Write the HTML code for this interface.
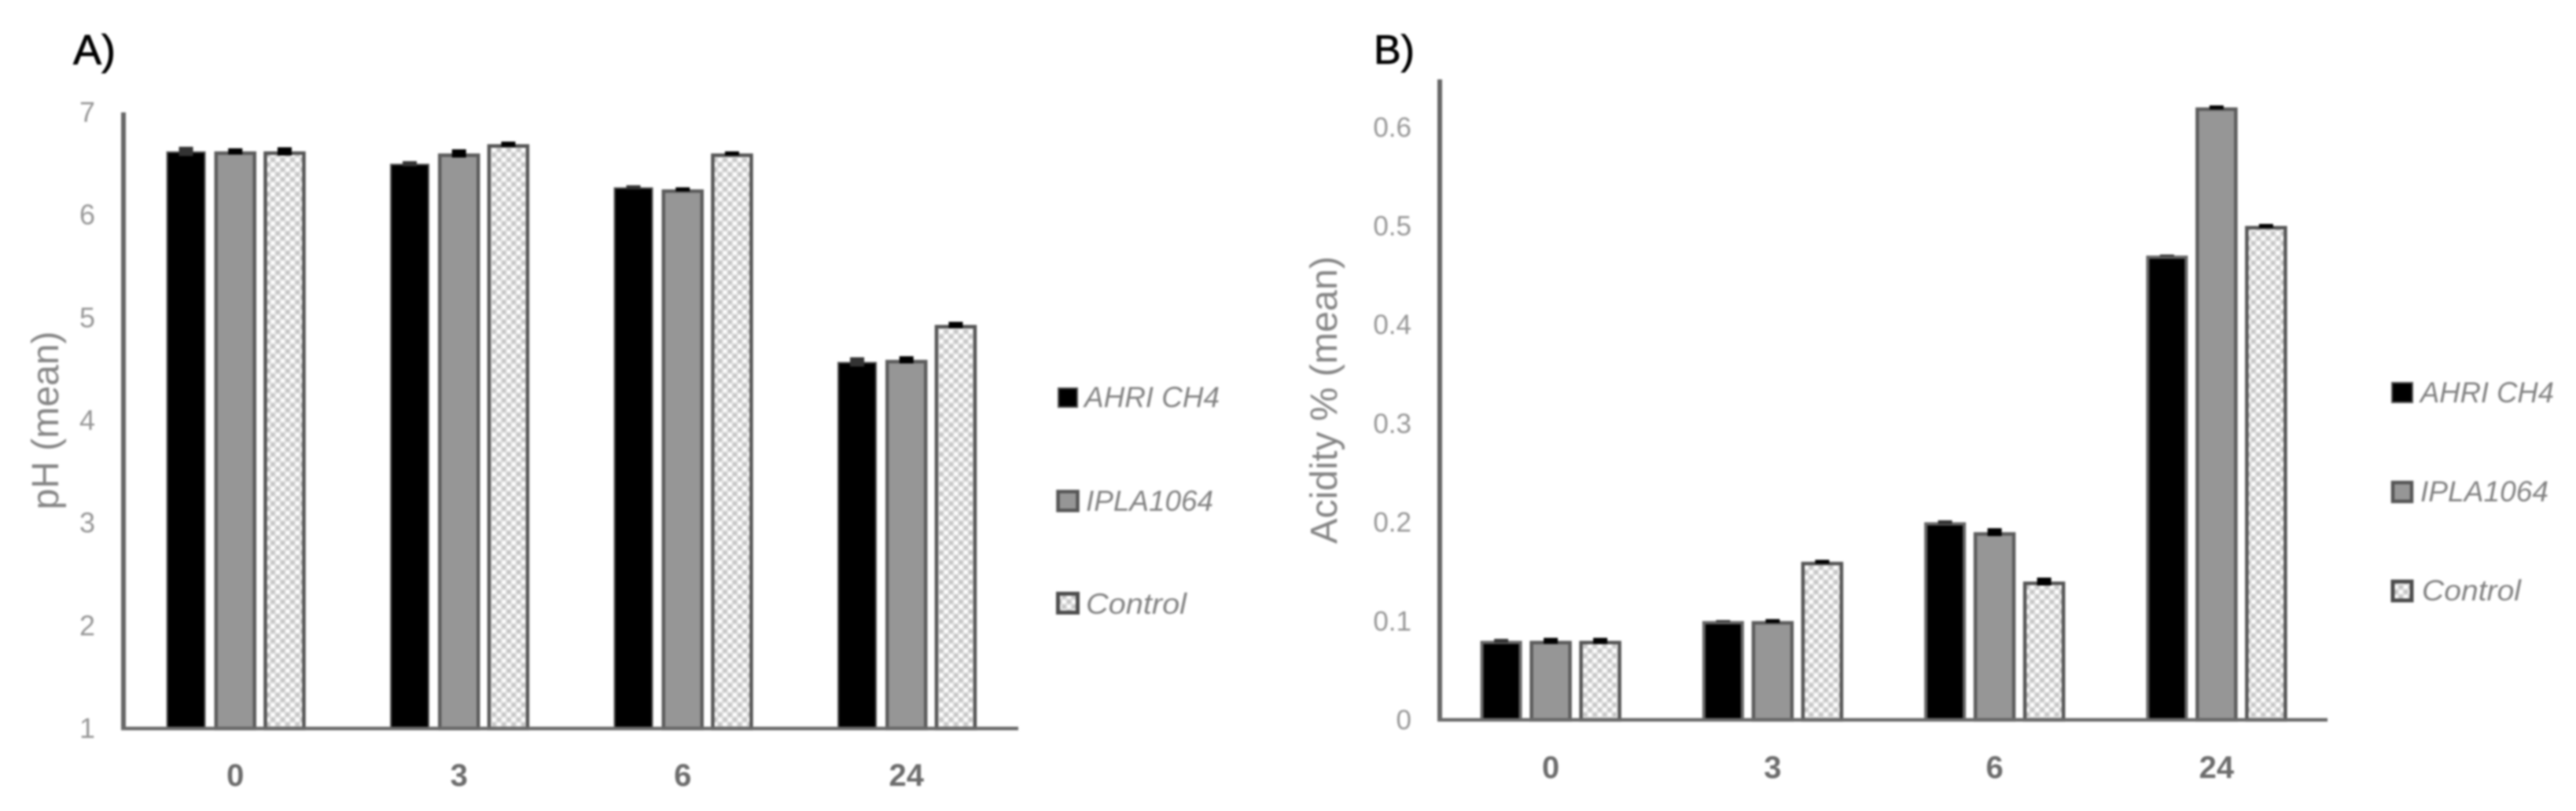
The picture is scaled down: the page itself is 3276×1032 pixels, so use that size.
<!DOCTYPE html>
<html lang="en">
<head>
<meta charset="utf-8">
<title>pH and acidity bar charts</title>
<style>
html,body{margin:0;padding:0;background:#fff;width:3276px;height:1032px;overflow:hidden}
svg{display:block;filter:blur(1.3px);font-family:"Liberation Sans",sans-serif}
</style>
</head>
<body>
<svg id="figure" xmlns="http://www.w3.org/2000/svg" width="3276" height="1032" viewBox="0 0 3276 1032">
  <defs>
    <pattern id="dots" width="12.5" height="12.5" patternUnits="userSpaceOnUse">
      <rect width="12.5" height="12.5" fill="#e0e0e0"/>
      <rect x="1" y="1" width="4.5" height="4.5" fill="#ffffff"/>
      <rect x="7.2" y="7.2" width="4.5" height="4.5" fill="#ffffff"/>
      <rect x="7.2" y="1" width="4.5" height="4.5" fill="#c4c4c4"/>
      <rect x="1" y="7.2" width="4.5" height="4.5" fill="#c4c4c4"/>
    </pattern>
  </defs>
  <rect width="3276" height="1032" fill="#ffffff"/>

  <text x="93" y="82" font-size="54" fill="#000" stroke="#000" stroke-width="0.8">A)</text>
  <text x="1747" y="81" font-size="52" fill="#000" stroke="#000" stroke-width="0.8">B)</text>

  <text transform="translate(74,535) rotate(-90)" text-anchor="middle" font-size="48" fill="#858585" textLength="227" lengthAdjust="spacingAndGlyphs">pH (mean)</text>
  <text transform="translate(1700,509) rotate(-90)" text-anchor="middle" font-size="48" fill="#858585" textLength="366" lengthAdjust="spacingAndGlyphs">Acidity % (mean)</text>

  <g id="chart-a"></g>
  <g id="chart-b"></g>

  <g font-size="37" font-style="italic" fill="#828282">
    <rect x="1346" y="494" width="24" height="24" fill="#000" stroke="#555" stroke-width="2"/>
    <text x="1379" y="518" textLength="172" lengthAdjust="spacingAndGlyphs">AHRI CH4</text>
    <rect x="1345.5" y="625.5" width="25" height="24" fill="#969696" stroke="#555" stroke-width="4.5"/>
    <text x="1381" y="650" textLength="162" lengthAdjust="spacingAndGlyphs">IPLA1064</text>
    <rect x="1345.5" y="755.5" width="25" height="24" fill="url(#dots)" stroke="#4c4c4c" stroke-width="5"/>
    <text x="1381" y="781" textLength="128" lengthAdjust="spacingAndGlyphs">Control</text>
  </g>
  <g font-size="37" font-style="italic" fill="#828282">
    <rect x="3042" y="487" width="26" height="25" fill="#000" stroke="#555" stroke-width="2"/>
    <text x="3078" y="512" textLength="170" lengthAdjust="spacingAndGlyphs">AHRI CH4</text>
    <rect x="3043" y="614" width="24" height="24" fill="#969696" stroke="#555" stroke-width="4.5"/>
    <text x="3078" y="638" textLength="163" lengthAdjust="spacingAndGlyphs">IPLA1064</text>
    <rect x="3043" y="740" width="24" height="24" fill="url(#dots)" stroke="#4c4c4c" stroke-width="5"/>
    <text x="3080" y="764" textLength="126" lengthAdjust="spacingAndGlyphs">Control</text>
  </g>
</svg>
<script>
// Shared categories (hours)
const categories = ['0', '3', '6', '24'];

// Panel A: pH (mean)
const phTicks = [1, 2, 3, 4, 5, 6, 7];
const phTickLabels = ['1', '2', '3', '4', '5', '6', '7'];
const phAhri = [6.62, 6.50, 6.27, 4.57];
const phIpla = [6.62, 6.60, 6.25, 4.59];
const phControl = [6.62, 6.69, 6.60, 4.93];
const phAhriErr = [0.045, 0.025, 0.02, 0.045];
const phIplaErr = [0.03, 0.04, 0.02, 0.035];
const phControlErr = [0.04, 0.025, 0.02, 0.03];

// Panel B: Acidity % (mean)
const acidityTicks = [0, 0.1, 0.2, 0.3, 0.4, 0.5, 0.6];
const acidityTickLabels = ['0', '0.1', '0.2', '0.3', '0.4', '0.5', '0.6'];
const acidityAhri = [0.08, 0.10, 0.20, 0.47];
const acidityIpla = [0.08, 0.10, 0.19, 0.62];
const acidityControl = [0.08, 0.16, 0.14, 0.50];
const acidityAhriErr = [0.002, 0.001, 0.002, 0.001];
const acidityIplaErr = [0.003, 0.002, 0.004, 0.002];
const acidityControlErr = [0.003, 0.002, 0.004, 0.002];

const NS = 'http://www.w3.org/2000/svg';

function make(tag, parent, props) {
  const el = document.createElementNS(NS, tag);
  for (const k in props) el.setAttribute(k, props[k]);
  parent.appendChild(el);
  return el;
}

function drawChart(cfg) {
  const g = document.getElementById(cfg.id);
  const yScale = v => cfg.baseY - (v - cfg.yMin) * cfg.pxPerUnit;
  const xBand = i => cfg.axisX + (cfg.axisEnd - cfg.axisX) * (i + 0.5) / categories.length;

  cfg.series.forEach((s, si) => {
    s.values.forEach((v, i) => {
      const cx = xBand(i) + (si - 1) * cfg.pitch;
      const top = yScale(v);
      const inner = s.inner;
      const barTop = top + s.stroke / 2;
      const bar = make('rect', g, {
        x: cx - inner / 2,
        y: barTop,
        width: inner,
        height: cfg.baseY - barTop,
        fill: s.fill,
        stroke: s.edge,
        'stroke-width': s.stroke
      });
      
      
      const eTop = yScale(v + s.err[i]);
      const eBot = yScale(v - s.err[i]);
      const err = make('rect', g, {
        x: cx - 9,
        y: eTop,
        width: 18,
        height: Math.max(eBot - eTop, 2),
        fill: si === 0 ? '#333' : '#000'
      });
      
      
    });
  });

  const yAxis = make('line', g, {
    x1: cfg.axisX, x2: cfg.axisX,
    y1: cfg.axisTop, y2: cfg.baseY + 2,
    stroke: '#666', 'stroke-width': 6
  });
  
  

  const xAxis = make('line', g, {
    x1: cfg.axisX - 3, x2: cfg.axisEnd,
    y1: cfg.baseY, y2: cfg.baseY,
    stroke: '#6a6a6a', 'stroke-width': 4.5
  });
  
  

  cfg.ticks.forEach((t, i) => {
    const label = make('text', g, {
      x: cfg.tickX,
      y: yScale(t) + 12,
      'text-anchor': 'end',
      'font-size': cfg.tickSize,
      fill: '#969696'
    });
    label.textContent = cfg.tickLabels[i];
    
    
  });

  categories.forEach((c, i) => {
    const label = make('text', g, {
      x: xBand(i),
      y: cfg.catY,
      'text-anchor': 'middle',
      'font-size': 40,
      'font-weight': 'bold',
      fill: '#6c6c6c'
    });
    label.textContent = c;
    
    
  });
}

drawChart({
  id: 'chart-a', axisX: 157, axisEnd: 1295, axisTop: 143, baseY: 927,
  yMin: 1, pxPerUnit: 130.67, pitch: 62.7, tickX: 121, tickSize: 36, catY: 1000,
  ticks: phTicks, tickLabels: phTickLabels,
  series: [
    { key: 'ahri-ch4', values: phAhri, err: phAhriErr, fill: '#000', inner: 48, stroke: 2, edge: '#555' },
    { key: 'ipla1064', values: phIpla, err: phIplaErr, fill: '#969696', inner: 49, stroke: 4.5, edge: '#5c5c5c' },
    { key: 'control', values: phControl, err: phControlErr, fill: 'url(#dots)', inner: 49, stroke: 4.5, edge: '#555' }
  ]
});

drawChart({
  id: 'chart-b', axisX: 1831, axisEnd: 2960, axisTop: 101, baseY: 916,
  yMin: 0, pxPerUnit: 1257, pitch: 63, tickX: 1795, tickSize: 35, catY: 990,
  ticks: acidityTicks, tickLabels: acidityTickLabels,
  series: [
    { key: 'ahri-ch4', values: acidityAhri, err: acidityAhriErr, fill: '#000', inner: 49, stroke: 4, edge: '#666' },
    { key: 'ipla1064', values: acidityIpla, err: acidityIplaErr, fill: '#969696', inner: 49, stroke: 4.5, edge: '#5c5c5c' },
    { key: 'control', values: acidityControl, err: acidityControlErr, fill: 'url(#dots)', inner: 49, stroke: 4.5, edge: '#555' }
  ]
});
</script>
</body>
</html>
